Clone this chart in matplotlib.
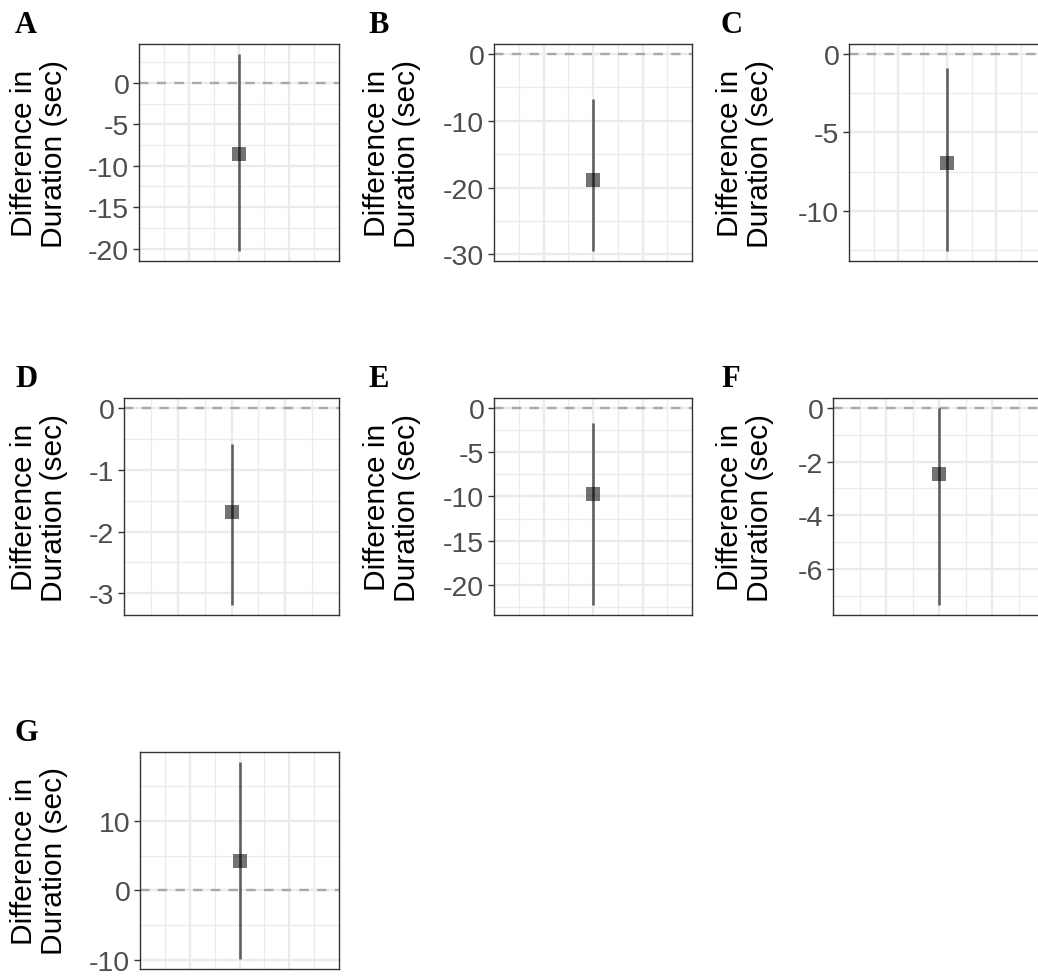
import numpy as np
import matplotlib.pyplot as plt

plt.rcParams['font.family'] = ['Liberation Sans', 'DejaVu Sans']
plt.rcParams['axes.unicode_minus'] = False

# Daten je Panel
panels = ['A', 'B', 'C', 'D', 'E', 'F', 'G']
estimate = [-8.6, -18.9, -6.96, -1.69, -9.76, -2.47, 4.16]
lower = [-20.3, -29.5, -12.56, -3.19, -22.26, -7.34, -9.9]
upper = [3.5, -6.8, -0.93, -0.58, -1.69, 0.0, 18.5]
yticks = [
    [0, -5, -10, -15, -20],
    [0, -10, -20, -30],
    [0, -5, -10],
    [0, -1, -2, -3],
    [0, -5, -10, -15, -20],
    [0, -2, -4, -6],
    [10, 0, -10],
]
ylabel = 'Difference in\nDuration (sec)'
xpos = 0

# Layout in Pixel
W, H = 1038, 979
col_x = [0, 353, 706]
row_y = [45, 399, 753]
left_off = [139, 141, 143, 124, 141, 127, 140]
ax_right = 339
ax_h = 217

fig = plt.figure(figsize=(W / 100, H / 100), dpi=100)

for i, lab in enumerate(panels):
    r, c = divmod(i, 3)
    x0 = col_x[c] + left_off[i]
    x1 = col_x[c] + ax_right
    top = row_y[r]
    ax = fig.add_axes([x0 / W, 1 - (top + ax_h) / H, (x1 - x0) / W, ax_h / H])

    lo = min(lower[i], 0)
    hi = max(upper[i], 0)
    pad = 0.05 * (hi - lo)
    ax.set_ylim(lo - pad, hi + pad)
    ax.set_xlim(-1, 1)

    # Gitter wie theme_bw
    yt = yticks[i]
    step = abs(yt[0] - yt[1])
    ax.set_yticks(yt)
    ax.set_yticklabels([str(v) for v in yt])
    ym = np.arange(min(yt) - step * 1.5, max(yt) + step * 1.5, step)
    ax.set_yticks([v for v in ym if lo - pad < v < hi + pad], minor=True)
    ax.set_xticks([-0.5, 0, 0.5])
    ax.set_xticks([-0.75, -0.25, 0.25, 0.75], minor=True)
    ax.grid(which='major', color='#EBEBEB', lw=1.7)
    ax.grid(which='minor', color='#EBEBEB', lw=0.9)
    ax.set_axisbelow(True)

    ax.tick_params(axis='x', which='both', length=0, labelbottom=False)
    ax.tick_params(axis='y', which='minor', length=0)
    ax.tick_params(axis='y', which='major', length=4, width=1.0, color='#333333',
                   labelsize=20.5, labelcolor='#4D4D4D', pad=3)
    for s in ax.spines.values():
        s.set_color('#333333')
        s.set_linewidth(1.0)

    ax.axhline(0, color='#A9A9A9', lw=1.7, ls=(0, (4, 3.5)), zorder=2)
    ax.vlines(xpos, lower[i], upper[i], color='black', alpha=0.6, lw=1.9, zorder=3)
    ax.plot(xpos, estimate[i], 's', color='black', alpha=0.55, ms=9.5, mew=0, zorder=4)

    fig.text((col_x[c] + 39) / W, 1 - (top + ax_h / 2) / H, ylabel, rotation=90,
             ha='center', va='center', multialignment='center', fontsize=21.5,
             linespacing=1.05)
    fig.text((col_x[c] + 15) / W, 1 - (top - 12) / H, lab, family='Liberation Serif',
             fontweight='bold', fontsize=22, va='baseline')

fig.savefig('out.png', dpi=100)
